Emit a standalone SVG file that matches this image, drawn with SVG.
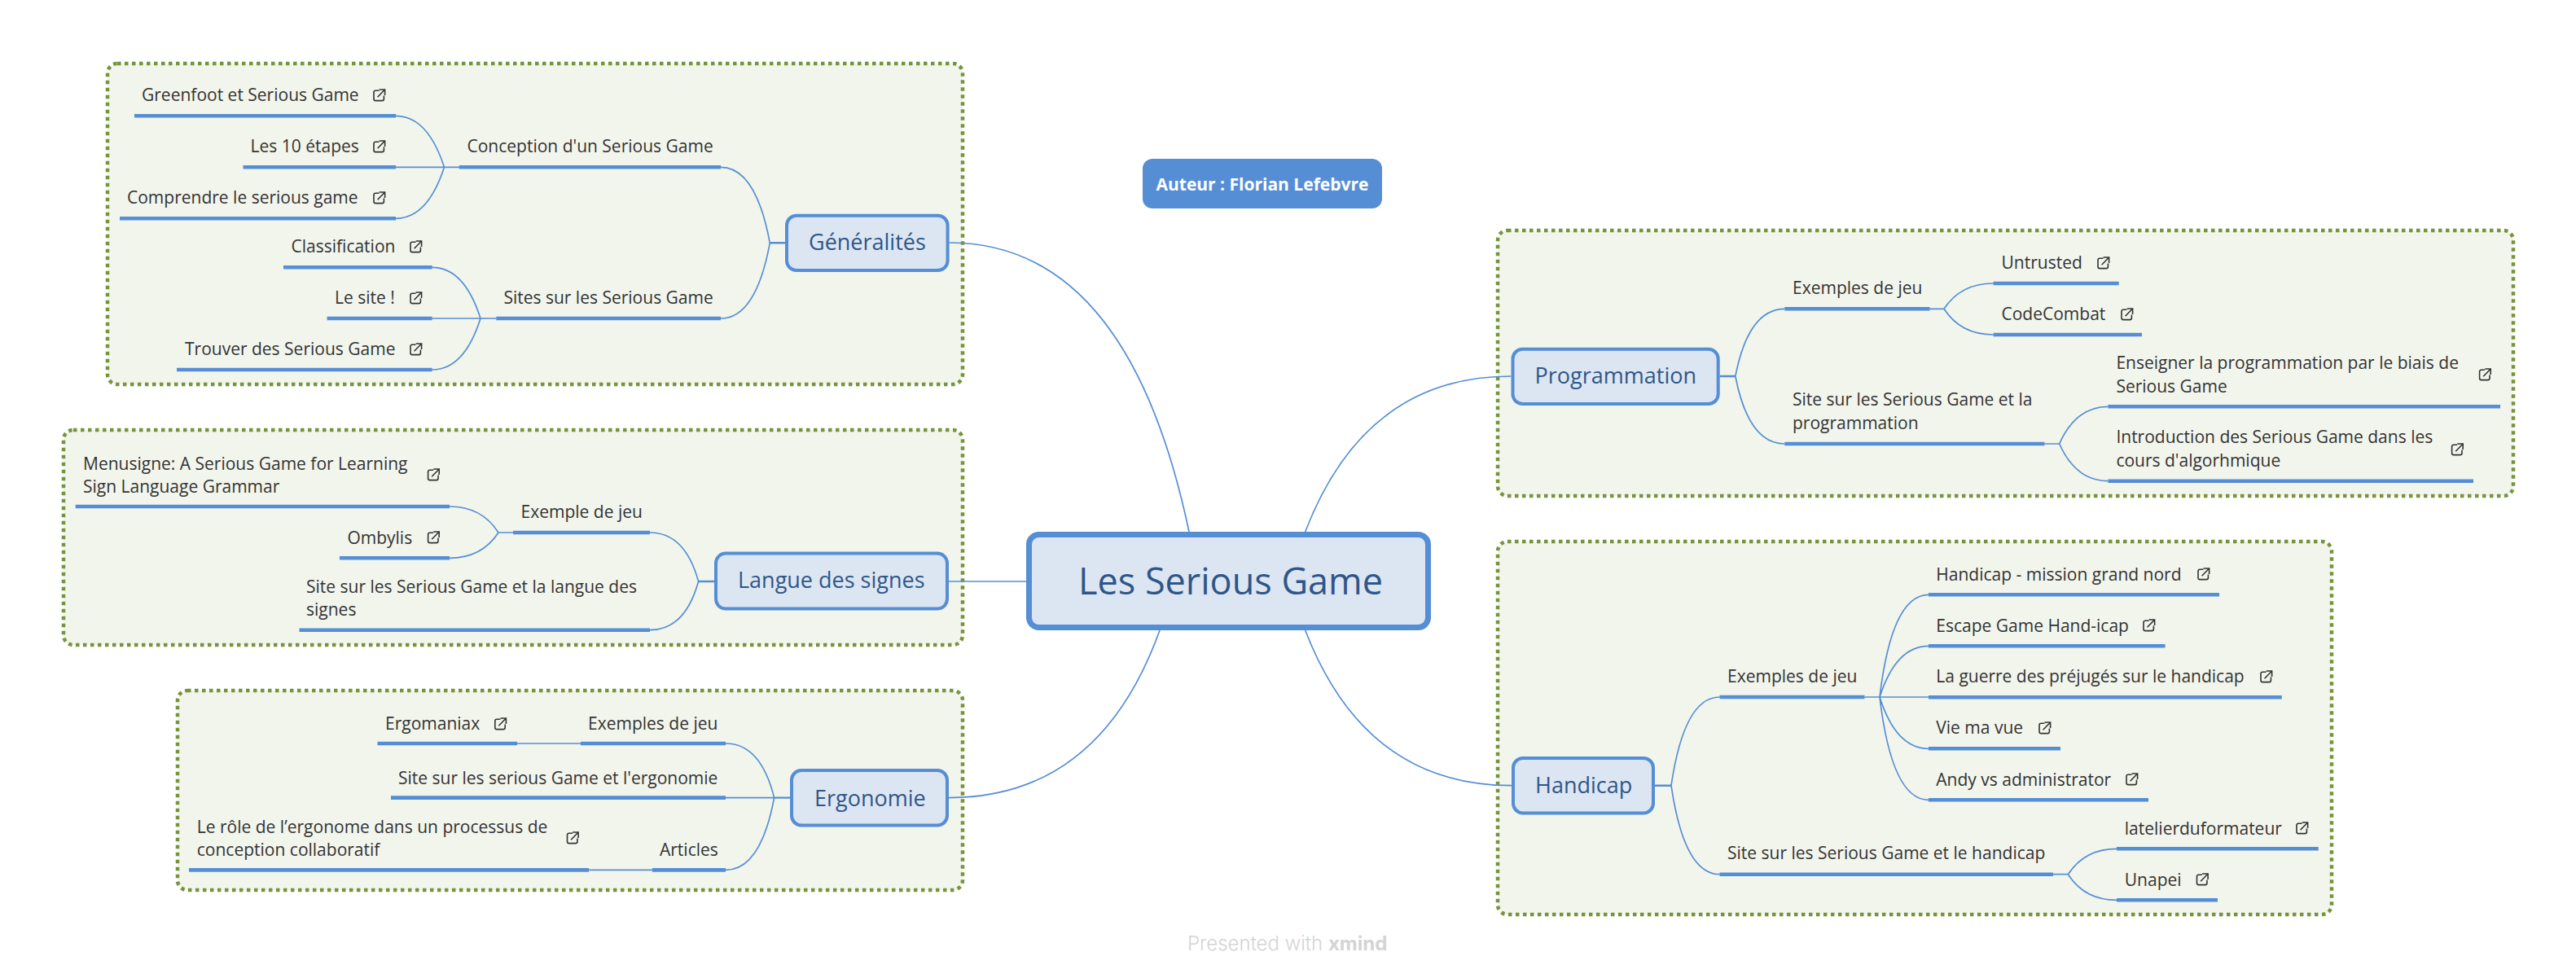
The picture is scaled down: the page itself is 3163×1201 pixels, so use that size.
<svg xmlns="http://www.w3.org/2000/svg" width="3163" height="1201" viewBox="0 0 3163 1201">
<style>
text{font-family:"Open Sans","Noto Sans","Liberation Sans",sans-serif}
.b{fill:#f2f5ec;stroke:#77933c;stroke-width:4.5;stroke-dasharray:4.5 4.5}
.c{fill:none;stroke:#558ed5;stroke-width:1.7}
.s{fill:none;stroke:#558ed5;stroke-width:2.4}
.u{fill:none;stroke:#558ed5;stroke-width:4.6}
.m{fill:#dce6f2;stroke:#558ed5;stroke-width:4}
.t{font-size:21px;fill:#333333}
.h{font-size:27px;fill:#2f5689}
.i{fill:none;stroke:#333333;stroke-width:1.6}
</style>
<defs>
<g id="lk"><path class="i" d="M7.5 2.3H3.2Q1 2.3 1 4.5V12.4Q1 14.6 3.2 14.6H11.2Q13.4 14.6 13.4 12.4V8.6"/><path class="i" d="M5.6 10.2L14.6 1M7.6 1H14.6V8"/></g>
</defs>
<rect width="3163" height="1201" fill="#ffffff"/>
<g id="boundaries">
<rect class="b" x="132" y="78" width="1050" height="394" rx="12"/>
<rect class="b" x="78" y="528" width="1104" height="264" rx="12"/>
<rect class="b" x="218" y="848" width="964" height="245" rx="12"/>
<rect class="b" x="1839" y="283" width="1247" height="326" rx="12"/>
<rect class="b" x="1839" y="665" width="1024" height="458" rx="12"/>
</g>
<g id="connectors">
<path class="c" d="M1165.6 298Q1385 298 1460 653"/>
<path class="c" d="M1165 714H1260"/>
<path class="c" d="M1165 979.6Q1350 979.6 1424 774"/>
<path class="c" d="M1602.7 653Q1676 462 1855.5 462"/>
<path class="c" d="M1602.7 774Q1676 964.7 1856 964.7"/>
<path class="s" d="M945.3 298.3H964M857.6 714H877M950.6 979.6H970M2111.7 462H2130.8M2032 964.7H2052"/>
<path class="c" d="M885 205.3Q928 205.3 945.3 298.3Q928 391 885 391"/>
<path class="c" d="M486 142.3Q525 142.3 545.5 205.3Q525 268.3 486 268.3M486 205.3H564"/>
<path class="c" d="M530.7 328.3Q570 328.3 590 391Q570 454 530.7 454M530.7 391H609.3"/>
<path class="c" d="M798 654Q841 654 857.6 714Q841 773.7 798 773.7"/>
<path class="c" d="M552 622Q591.6 622 612 654Q591.6 685.3 552 685.3M612 654H630"/>
<path class="c" d="M891 913Q934 913 950.6 979.6Q934 1068.4 891 1068.4M891 979.6H950.6"/>
<path class="c" d="M635 913H713M723 1068.4H801"/>
<path class="c" d="M2191.3 379.3Q2147 379.3 2130.8 462Q2147 545 2191.3 545"/>
<path class="c" d="M2447.5 348Q2407.5 348 2387 379.3Q2407.5 411 2447.5 411M2369.6 379.3H2387"/>
<path class="c" d="M2588.4 499.3Q2549 499.3 2528.7 545Q2549 590.7 2588.4 590.7M2510.5 545H2528.7"/>
<path class="c" d="M2111.5 856Q2068 856 2052 964.7Q2068 1073.7 2111.5 1073.7"/>
<path class="c" d="M2368 730.3Q2323 730.3 2308 856Q2323 982.3 2368 982.3M2368 793.3Q2328 793.3 2308 856Q2328 919.3 2368 919.3M2289.6 856H2368"/>
<path class="c" d="M2599 1042.3Q2559.7 1042.3 2539.4 1073.7Q2559.7 1105.3 2599 1105.3M2521 1073.7H2539.4"/>
</g>
<g id="note">
<rect x="1403" y="195" width="294" height="61" rx="12" fill="#558ed5"/>
<text x="1419.5" y="234" font-size="21" font-weight="700" fill="#ffffff">Auteur : Florian Lefebvre</text>
</g>
<g id="central">
<rect x="1263.5" y="656.5" width="490" height="114" rx="12" fill="#dce6f2" stroke="#558ed5" stroke-width="7"/>
<text x="1324" y="730" font-size="45" fill="#2f5689">Les Serious Game</text>
</g>
<g id="generalites"><rect class="m" x="966" y="264.7" width="197.6" height="67.3" rx="12"/><text class="h" x="993" y="307">Généralités</text></g>
<g id="conception"><path class="u" d="M563.7 205.3H885"/><text class="t" x="573.5" y="187.3">Conception d'un Serious Game</text></g>
<g id="greenfoot"><path class="u" d="M165 142.3H486"/><text class="t" x="174" y="124.3">Greenfoot et Serious Game</text><use href="#lk" x="458" y="109"/></g>
<g id="etapes"><path class="u" d="M298.5 205.3H486"/><text class="t" x="307.6" y="187.3">Les 10 étapes</text><use href="#lk" x="458" y="172"/></g>
<g id="comprendre"><path class="u" d="M147 268.3H486"/><text class="t" x="156" y="250.3">Comprendre le serious game</text><use href="#lk" x="458" y="235"/></g>
<g id="sites"><path class="u" d="M609.3 391H885"/><text class="t" x="618.4" y="373.3">Sites sur les Serious Game</text></g>
<g id="classification"><path class="u" d="M348 328.3H530.7"/><text class="t" x="357.5" y="310.3">Classification</text><use href="#lk" x="503" y="295"/></g>
<g id="lesite"><path class="u" d="M401.6 391H530.7"/><text class="t" x="411" y="373.3">Le site !</text><use href="#lk" x="503" y="358"/></g>
<g id="trouver"><path class="u" d="M217 454H530.7"/><text class="t" x="227" y="436.3">Trouver des Serious Game</text><use href="#lk" x="503" y="421"/></g>
<g id="langue"><rect class="m" x="879" y="679.6" width="284" height="68" rx="12"/><text class="h" x="906" y="722.4">Langue des signes</text></g>
<g id="exemple"><path class="u" d="M630 654H798"/><text class="t" x="639.5" y="636">Exemple de jeu</text></g>
<g id="menusigne"><path class="u" d="M92.7 622H552"/><text class="t" x="102" y="577">Menusigne: A Serious Game for Learning</text><text class="t" x="102" y="605">Sign Language Grammar</text><use href="#lk" x="524.6" y="575"/></g>
<g id="ombylis"><path class="u" d="M417 685.3H552"/><text class="t" x="426.4" y="667.7">Ombylis</text><use href="#lk" x="524.6" y="652"/></g>
<g id="sitelangue"><path class="u" d="M367.5 773.7H798"/><text class="t" x="376" y="727.8">Site sur les Serious Game et la langue des</text><text class="t" x="376" y="756">signes</text></g>
<g id="ergonomie"><rect class="m" x="972" y="946" width="191" height="67.5" rx="12"/><text class="h" x="1000" y="989.5">Ergonomie</text></g>
<g id="exemplesergo"><path class="u" d="M713 913H891"/><text class="t" x="722" y="896">Exemples de jeu</text></g>
<g id="ergomaniax"><path class="u" d="M463.5 913H635"/><text class="t" x="473" y="896">Ergomaniax</text><use href="#lk" x="606.8" y="881"/></g>
<g id="siteergo"><path class="u" d="M480 979.6H891"/><text class="t" x="489" y="963">Site sur les serious Game et l'ergonomie</text></g>
<g id="articles"><path class="u" d="M801 1068.4H891"/><text class="t" x="810" y="1051">Articles</text></g>
<g id="role"><path class="u" d="M232 1068.4H723"/><text class="t" x="241.8" y="1023">Le rôle de l’ergonome dans un processus de</text><text class="t" x="241.8" y="1051">conception collaboratif</text><use href="#lk" x="695.5" y="1021"/></g>
<g id="programmation"><rect class="m" x="1857.5" y="428.7" width="252.2" height="67.3" rx="12"/><text class="h" x="1884.6" y="471">Programmation</text></g>
<g id="exemplesprog"><path class="u" d="M2191.3 379.3H2369.6"/><text class="t" x="2201" y="361">Exemples de jeu</text></g>
<g id="untrusted"><path class="u" d="M2447.5 348H2601.7"/><text class="t" x="2457.5" y="330">Untrusted</text><use href="#lk" x="2575" y="315"/></g>
<g id="codecombat"><path class="u" d="M2447.5 411H2630"/><text class="t" x="2457.5" y="393">CodeCombat</text><use href="#lk" x="2604" y="378"/></g>
<g id="siteprog"><path class="u" d="M2191.3 545H2510.5"/><text class="t" x="2201" y="498">Site sur les Serious Game et la</text><text class="t" x="2201" y="527">programmation</text></g>
<g id="enseigner"><path class="u" d="M2588.4 499.3H3070"/><text class="t" x="2598.4" y="453">Enseigner la programmation par le biais de</text><text class="t" x="2598.4" y="481.7">Serious Game</text><use href="#lk" x="3043.6" y="452"/></g>
<g id="introduction"><path class="u" d="M2588.4 590.7H3037"/><text class="t" x="2598.4" y="544.3">Introduction des Serious Game dans les</text><text class="t" x="2598.4" y="573.3">cours d'algorhmique</text><use href="#lk" x="3009.6" y="544"/></g>
<g id="handicap"><rect class="m" x="1858" y="931" width="172" height="67.5" rx="12"/><text class="h" x="1885" y="974">Handicap</text></g>
<g id="exempleshand"><path class="u" d="M2111.5 856H2289.6"/><text class="t" x="2121" y="838">Exemples de jeu</text></g>
<g id="mission"><path class="u" d="M2368 730.3H2725"/><text class="t" x="2377.3" y="712.7">Handicap - mission grand nord</text><use href="#lk" x="2698" y="697"/></g>
<g id="escape"><path class="u" d="M2368 793.3H2658.6"/><text class="t" x="2377.3" y="775.7">Escape Game Hand-icap</text><use href="#lk" x="2631" y="760"/></g>
<g id="guerre"><path class="u" d="M2368 856.3H2801.8"/><text class="t" x="2377.3" y="838">La guerre des préjugés sur le handicap</text><use href="#lk" x="2775" y="823"/></g>
<g id="vie"><path class="u" d="M2368 919.3H2530"/><text class="t" x="2377.3" y="901">Vie ma vue</text><use href="#lk" x="2503" y="886"/></g>
<g id="andy"><path class="u" d="M2368 982.3H2638"/><text class="t" x="2377.3" y="964.7">Andy vs administrator</text><use href="#lk" x="2610" y="949"/></g>
<g id="sitehand"><path class="u" d="M2111.5 1073.7H2521"/><text class="t" x="2121" y="1055">Site sur les Serious Game et le handicap</text></g>
<g id="latelier"><path class="u" d="M2599 1042.3H2846.7"/><text class="t" x="2608.8" y="1024.7">latelierduformateur</text><use href="#lk" x="2819" y="1009"/></g>
<g id="unapei"><path class="u" d="M2599 1105.3H2723"/><text class="t" x="2608.8" y="1087.6">Unapei</text><use href="#lk" x="2696.5" y="1072"/></g>
<g id="credit"><text x="1458" y="1166.7" font-size="24" fill="#d4d4d4" style="font-family:Inter,'Open Sans',sans-serif;font-weight:300">Presented with <tspan font-weight="700">xmind</tspan></text></g>
</svg>
